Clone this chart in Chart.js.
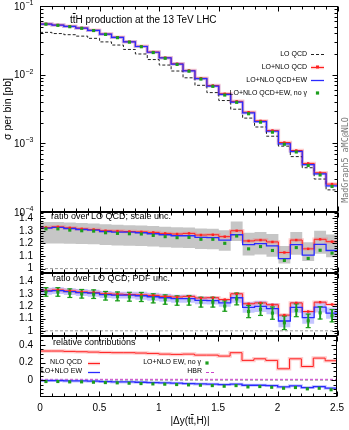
<!DOCTYPE html>
<html><head><meta charset="utf-8">
<script src="https://cdn.jsdelivr.net/npm/chart.js@4.4.0/dist/chart.umd.min.js"></script>
<style>
html,body{margin:0;padding:0;background:#fff;}
#wrap{position:relative;width:349px;height:430px;overflow:hidden;font-family:"Liberation Sans",Arial,sans-serif;background:#fff;}
canvas{position:absolute;left:0;top:0;}
.t{position:absolute;white-space:nowrap;color:#000;}
.ov{text-decoration:overline;}
</style></head><body>
<div id="wrap">
<canvas id="c1" width="349" height="430"></canvas>
<canvas id="c2" width="349" height="430"></canvas>
<canvas id="c3" width="349" height="430"></canvas>
<canvas id="c4" width="349" height="430"></canvas>
<div class="t" style="left:70px;top:14px;font-size:10px;line-height:12px;">t<span class="ov">t</span>H production at the 13 TeV LHC</div>
<div class="t" style="left:140px;width:100px;text-align:center;top:415px;font-size:10px;line-height:12px;">|Δy(t<span class="ov">t</span>,H)|</div>
<div class="t" style="left:302px;width:86px;text-align:center;top:155px;height:10px;font-size:8.4px;line-height:10px;font-family:'DejaVu Sans Mono',monospace;color:#777;transform:rotate(-90deg);">MadGraph5_aMC@NLO</div>
</div>
<script>
// ---------------- data ----------------
const binEdges = [0,0.1,0.2,0.3,0.4,0.5,0.6,0.7,0.8,0.9,1.0,1.1,1.2,1.3,1.4,1.5,1.6,1.7,1.8,1.9,2.0,2.1,2.2,2.3,2.4,2.5];
const loQCD = [0.0413,0.0397,0.0382,0.0364,0.0338,0.0300,0.0270,0.0233,0.0200,0.0166,0.0138,0.0113,0.0090,0.0070,0.00548,0.00420,0.00314,0.00233,0.00173,0.00127,0.00091,0.000641,0.000441,0.000302,0.000210];
const ratioQCD = [1.327,1.332,1.324,1.316,1.311,1.301,1.298,1.295,1.292,1.288,1.280,1.275,1.280,1.267,1.269,1.254,1.301,1.220,1.227,1.212,1.128,1.227,1.157,1.233,1.214];
const ratioEW = [1.322,1.327,1.319,1.311,1.306,1.295,1.290,1.290,1.285,1.277,1.269,1.261,1.261,1.248,1.246,1.227,1.269,1.191,1.199,1.180,1.080,1.191,1.107,1.193,1.144];
const ratioNoGam = [1.316,1.316,1.306,1.301,1.298,1.285,1.280,1.277,1.275,1.264,1.254,1.246,1.248,1.233,1.233,1.201,1.259,1.157,1.175,1.144,1.065,1.167,1.081,1.146,1.123];
const scaleHi = [1.370,1.370,1.366,1.362,1.358,1.352,1.348,1.345,1.342,1.338,1.332,1.328,1.326,1.318,1.316,1.305,1.375,1.285,1.290,1.275,1.180,1.290,1.210,1.300,1.272];
const scaleLo = [1.200,1.200,1.198,1.196,1.193,1.188,1.184,1.182,1.180,1.176,1.170,1.166,1.164,1.155,1.153,1.142,1.220,1.105,1.112,1.095,1.040,1.110,1.060,1.118,1.090];
const pdfHi = [1.350,1.355,1.347,1.339,1.334,1.323,1.318,1.318,1.317,1.309,1.301,1.293,1.293,1.280,1.278,1.259,1.309,1.236,1.244,1.225,1.130,1.236,1.157,1.238,1.189];
const pdfLo = [1.294,1.299,1.291,1.283,1.278,1.267,1.262,1.262,1.253,1.245,1.237,1.229,1.229,1.216,1.214,1.195,1.229,1.146,1.154,1.135,1.030,1.146,1.057,1.148,1.099];
const errNoGam = [0.035,0.035,0.035,0.035,0.035,0.035,0.036,0.036,0.037,0.037,0.038,0.038,0.039,0.040,0.040,0.042,0.048,0.050,0.050,0.050,0.055,0.052,0.055,0.050,0.050];
const relQCD = [0.330,0.330,0.326,0.322,0.318,0.314,0.311,0.311,0.307,0.303,0.295,0.292,0.295,0.284,0.284,0.273,0.311,0.224,0.242,0.224,0.129,0.242,0.155,0.250,0.220];
const relEW = [-0.004,-0.004,-0.008,-0.008,-0.011,-0.015,-0.019,-0.019,-0.023,-0.027,-0.030,-0.034,-0.038,-0.042,-0.045,-0.049,-0.045,-0.057,-0.057,-0.061,-0.076,-0.064,-0.083,-0.072,-0.090];
const relNoGam = [-0.015,-0.015,-0.019,-0.019,-0.023,-0.027,-0.030,-0.034,-0.038,-0.042,-0.045,-0.049,-0.053,-0.057,-0.061,-0.068,-0.061,-0.076,-0.072,-0.080,-0.091,-0.083,-0.098,-0.091,-0.108];
const relHBR = [0.010,0.010,0.010,0.010,0.010,0.010,0.010,0.010,0.010,0.010,0.010,0.010,0.010,0.010,0.010,0.010,0.010,0.010,0.010,0.010,0.010,0.010,0.010,0.010,0.010];
const xTickValues = [0,0.5,1,1.5,2,2.5];
const xTickLabels = ['0','0.5','1','1.5','2','2.5'];
const ratioTickValues = [1,1.1,1.2,1.3,1.4];
const ratioTickLabels = ['1','1.1','1.2','1.3','1.4'];
const relTickValues = [0,0.2,0.4];
const relTickLabels = ['0','0.2','0.4'];
const logTickExps = [-4,-3,-2,-1];
const ratioRef = 1, relRef = 0;

// ---------------- style ----------------
const FONT = '"Liberation Sans", Arial, sans-serif';
const RED = '#ff2020', REDHALO = 'rgba(255,110,110,0.35)';
const BLUE = '#2a2aff', BLUEHALO = 'rgba(130,130,255,0.45)';
const GREEN = '#1c9e1c';
const GRAYBAND = '#c6c6c6', PDFBAND = 'rgba(150,150,255,0.55)';
const REFC = '#999999', HBRC = '#cc44cc';

function stepData(vals){ return binEdges.map((e,i)=>({x:e, y: vals[Math.min(i, vals.length-1)]})); }
function ptData(vals){ return vals.map((v,i)=>({x:(binEdges[i]+binEdges[i+1])/2, y:v})); }
function lineDs(vals, color, width, extra){
  return Object.assign({type:'line', data:stepData(vals), borderColor:color, backgroundColor:color, borderWidth:width,
    pointRadius:0, stepped:'before', fill:false, clip:0}, extra||{});
}
function refDs(v, color){
  return {type:'line', data:[{x:binEdges[0],y:v},{x:binEdges[binEdges.length-1],y:v}], borderColor:color, borderWidth:1,
    borderDash:[3,2], pointRadius:0, fill:false, clip:0};
}
function ptsDs(vals, color, r, style){
  return {type:'line', data:ptData(vals), showLine:false, pointStyle:style||'rect', pointRadius:r,
    pointBackgroundColor:color, pointBorderColor:color, pointBorderWidth:0, clip:0};
}
function mul(a,b){ return a.map((v,i)=>v*b[i]); }

// ---------------- decoration plugin ----------------
function decoPlugin(cfg){
  return {id:'deco', afterDatasetsDraw(chart){
    const ctx = chart.ctx, a = chart.chartArea, xs = chart.scales.x, ys = chart.scales.y;
    ctx.save();
    const L = Math.round(a.left)+0.5, R = Math.round(a.right)-0.5, T = Math.round(a.top)+0.5, B = Math.round(a.bottom)-0.5;
    ctx.strokeStyle = '#000'; ctx.lineWidth = 1; ctx.setLineDash([]);
    ctx.beginPath();
    for (const v of binEdges){
      const p = Math.round(xs.getPixelForValue(v))+0.5;
      const major = Math.abs(v*2-Math.round(v*2))<1e-6;
      const len = major?5:3;
      ctx.moveTo(p,B); ctx.lineTo(p,B-len); ctx.moveTo(p,T); ctx.lineTo(p,T+len);
    }
    for (const t of cfg.yTicks){
      const p = Math.round(ys.getPixelForValue(t.v))+0.5;
      if (p < T-0.1 || p > B+0.1) continue;
      const len = t.major?5:3;
      ctx.moveTo(L,p); ctx.lineTo(L+len,p); ctx.moveTo(R,p); ctx.lineTo(R-len,p);
    }
    ctx.stroke();
    ctx.strokeRect(L, T, R-L, B-T);
    ctx.fillStyle = '#000';
    if (cfg.logLabels){
      for (const e of logTickExps){
        const p = ys.getPixelForValue(Math.pow(10,e));
        ctx.font = '10px '+FONT; ctx.textAlign='right'; ctx.textBaseline='middle';
        ctx.fillText('10', 25, p+1);
        ctx.font = '7px '+FONT; ctx.textAlign='left';
        ctx.fillText(String(e).replace('-','\u2212'), 25.5, p-3);
      }
    }
    for (const tx of (cfg.texts||[])){
      ctx.font = tx.size+'px '+FONT; ctx.textAlign = tx.align||'left'; ctx.textBaseline='middle';
      ctx.fillStyle = '#000';
      ctx.fillText(tx.t, tx.x, tx.y);
    }
    for (const it of (cfg.legend||[])){
      ctx.font = '7px '+FONT; ctx.textAlign='right'; ctx.textBaseline='middle'; ctx.fillStyle='#000';
      ctx.fillText(it.t, it.x, it.y);
      const y = Math.round(it.y)+0.5, s0 = it.s0, s1 = it.s1, c = (s0+s1)/2;
      ctx.setLineDash([]);
      if (it.kind==='lo'){ ctx.strokeStyle='#222'; ctx.lineWidth=1; ctx.setLineDash([3,2]); ctx.beginPath(); ctx.moveTo(s0,y); ctx.lineTo(s1,y); ctx.stroke(); }
      if (it.kind==='hbr'){ ctx.strokeStyle=HBRC; ctx.lineWidth=1; ctx.setLineDash([3,2]); ctx.beginPath(); ctx.moveTo(s0,y); ctx.lineTo(s1,y); ctx.stroke(); }
      if (it.kind==='qcd'){
        ctx.strokeStyle=REDHALO; ctx.lineWidth=3.5; ctx.beginPath(); ctx.moveTo(s0,y); ctx.lineTo(s1,y); ctx.stroke();
        ctx.strokeStyle=RED; ctx.lineWidth=1; ctx.beginPath(); ctx.moveTo(s0,y); ctx.lineTo(s1,y); ctx.stroke();
        if (it.dot){ ctx.fillStyle=RED; ctx.fillRect(c-1.5,y-2,3,3); }
      }
      if (it.kind==='ew'){ ctx.strokeStyle=BLUE; ctx.lineWidth=1.3; ctx.beginPath(); ctx.moveTo(s0,y); ctx.lineTo(s1,y); ctx.stroke(); }
      if (it.kind==='nog'){ ctx.fillStyle=GREEN; ctx.fillRect(c-1.6,y-2.1,3.2,3.2); }
    }
    ctx.restore();
  }};
}

function makeChart(id, top, bottom, yScale, datasets, cfg, showX){
  datasets.forEach((d,i)=>{ d.order = datasets.length - i; });
  const yS = Object.assign({display:true, grid:{display:false, drawTicks:false}, border:{display:false},
    afterFit:(s)=>{ s.width = 40; }}, yScale);
  return new Chart(document.getElementById(id), {
    type:'line',
    data:{datasets:datasets},
    options:{
      responsive:false, animation:false, devicePixelRatio:1, events:[],
      layout:{autoPadding:false, padding:{left:0, right:11, top:top, bottom: showX ? 0 : 430-bottom}},
      plugins:{legend:{display:false}, tooltip:{enabled:false}, title:{display:false}},
      scales:{
        x:{type:'linear', min:0, max:2.5, offset:false, display:showX,
           grid:{display:false, drawTicks:false}, border:{display:false},
           afterBuildTicks:(s)=>{ s.ticks = xTickValues.map(v=>({value:v})); },
           afterFit:(s)=>{ s.height = showX ? 430-bottom : 0; },
           ticks:{autoSkip:false, maxRotation:0, padding:5, color:'#000', font:{family:FONT, size:10},
                  callback:(v,i)=>xTickLabels[i]}},
        y:yS
      }
    },
    plugins:[decoPlugin(cfg)]
  });
}

function ratioTicks(lo, hi){
  const out = [];
  for (let k = Math.ceil(lo*50); k <= Math.floor(hi*50); k++){ out.push({v:k/50, major: k%5===0}); }
  return out;
}

// ---------------- panel 1 ----------------
const topQCD = mul(loQCD, ratioQCD), topEW = mul(loQCD, ratioEW), topNoGam = mul(loQCD, ratioNoGam);
const logTicks = [];
for (const e of [-4,-3,-2]){ for (let m=1;m<=9;m++){ logTicks.push({v:m*Math.pow(10,e), major:m===1}); } }
logTicks.push({v:0.1, major:true});
makeChart('c1', 6, 212,
  {type:'logarithmic', min:1e-4, max:1e-1, ticks:{display:false},
   title:{display:true, text:'σ per bin [pb]', color:'#000', font:{family:FONT, size:10.5}, padding:{top:2,bottom:0}}},
  [
    lineDs(topQCD, REDHALO, 3.5),
    lineDs(topEW, BLUEHALO, 3),
    lineDs(loQCD, '#222', 1, {borderDash:[3,2]}),
    lineDs(topQCD, RED, 1),
    lineDs(topEW, BLUE, 1.2),
    ptsDs(topQCD, RED, 1.7),
    ptsDs(topNoGam, GREEN, 2.2)
  ],
  {yTicks:logTicks, logLabels:true,
   legend:[
     {t:'LO QCD', x:307, y:54, s0:311, s1:324, kind:'lo'},
     {t:'LO+NLO QCD', x:307, y:67, s0:311, s1:324, kind:'qcd', dot:true},
     {t:'LO+NLO QCD+EW', x:307, y:80, s0:311, s1:324, kind:'ew'},
     {t:'LO+NLO QCD+EW, no γ', x:307, y:93, s0:311, s1:324, kind:'nog'}
   ]}, false);

// ---------------- panel 2: scale unc ----------------
const p2 = [
  lineDs(scaleHi, GRAYBAND, 0, {fill:1, backgroundColor:GRAYBAND}),
  lineDs(scaleLo, GRAYBAND, 0),
  refDs(ratioRef, REFC),
  lineDs(ratioQCD, REDHALO, 3.5),
  lineDs(ratioQCD, RED, 1),
  lineDs(ratioEW, BLUE, 1.3),
  ptsDs(ratioQCD, RED, 1.7),
  ptsDs(ratioNoGam, GREEN, 2.2)
];
makeChart('c2', 212, 273,
  {type:'linear', min:0.965, max:1.45,
   afterBuildTicks:(s)=>{ s.ticks = ratioTickValues.map(v=>({value:v})); },
   ticks:{autoSkip:false, padding:7, color:'#000', font:{family:FONT, size:10}, callback:(v,i)=>ratioTickLabels[i]}},
  p2,
  {yTicks:ratioTicks(0.965,1.45), texts:[{t:'ratio over LO QCD; scale unc.', x:51, y:217, size:9}]}, false);

// ---------------- panel 3: PDF unc ----------------
const errBars = ratioNoGam.map((v,i)=>({x:(binEdges[i]+binEdges[i+1])/2, y:[v-errNoGam[i], v+errNoGam[i]]}));
const p3 = [
  lineDs(pdfHi, PDFBAND, 0, {fill:1, backgroundColor:PDFBAND}),
  lineDs(pdfLo, PDFBAND, 0),
  refDs(ratioRef, REFC),
  lineDs(ratioQCD, REDHALO, 3.5),
  lineDs(ratioQCD, RED, 1),
  lineDs(ratioEW, BLUE, 1.3),
  {type:'bar', data:errBars, backgroundColor:GREEN, borderWidth:0, barThickness:1.3, grouped:false, clip:0},
  ptsDs(ratioNoGam.map((v,i)=>v+errNoGam[i]), GREEN, 2.5, 'line'),
  ptsDs(ratioNoGam.map((v,i)=>v-errNoGam[i]), GREEN, 2.5, 'line'),
  ptsDs(ratioQCD, RED, 1.7),
  ptsDs(ratioNoGam, GREEN, 2.2)
];
p3[7].pointBorderWidth = 1.2; p3[8].pointBorderWidth = 1.2;
makeChart('c3', 273, 336,
  {type:'linear', min:0.958, max:1.47,
   afterBuildTicks:(s)=>{ s.ticks = ratioTickValues.map(v=>({value:v})); },
   ticks:{autoSkip:false, padding:7, color:'#000', font:{family:FONT, size:10}, callback:(v,i)=>ratioTickLabels[i]}},
  p3,
  {yTicks:ratioTicks(0.958,1.47), texts:[{t:'ratio over LO QCD; PDF unc.', x:53, y:279, size:9}]}, false);

// ---------------- panel 4: relative contributions ----------------
const relTicks = [];
for (let k=-3;k<=10;k++){ relTicks.push({v:k*0.05, major: k%4===0}); }
const p4 = [
  refDs(relRef, REFC),
  lineDs(relHBR, HBRC, 1, {borderDash:[3,2]}),
  lineDs(relQCD, REDHALO, 3.5),
  lineDs(relQCD, RED, 1),
  lineDs(relEW, BLUEHALO, 3),
  lineDs(relEW, BLUE, 1.3),
  ptsDs(relNoGam, GREEN, 2.2)
];
makeChart('c4', 336, 397,
  {type:'linear', min:-0.19, max:0.5,
   afterBuildTicks:(s)=>{ s.ticks = relTickValues.map(v=>({value:v})); },
   ticks:{autoSkip:false, padding:7, color:'#000', font:{family:FONT, size:10}, callback:(v,i)=>relTickLabels[i]}},
  p4,
  {yTicks:relTicks, texts:[{t:'relative contributions', x:53, y:343, size:9}],
   legend:[
     {t:'NLO QCD', x:82, y:362.5, s0:88, s1:100, kind:'qcd'},
     {t:'LO+NLO EW', x:82, y:371.5, s0:88, s1:100, kind:'ew'},
     {t:'LO+NLO EW, no γ', x:201, y:362.5, s0:203, s1:211, kind:'nog'},
     {t:'HBR', x:202, y:371.5, s0:206, s1:214, kind:'hbr'}
   ]}, true);
</script>
</body></html>
